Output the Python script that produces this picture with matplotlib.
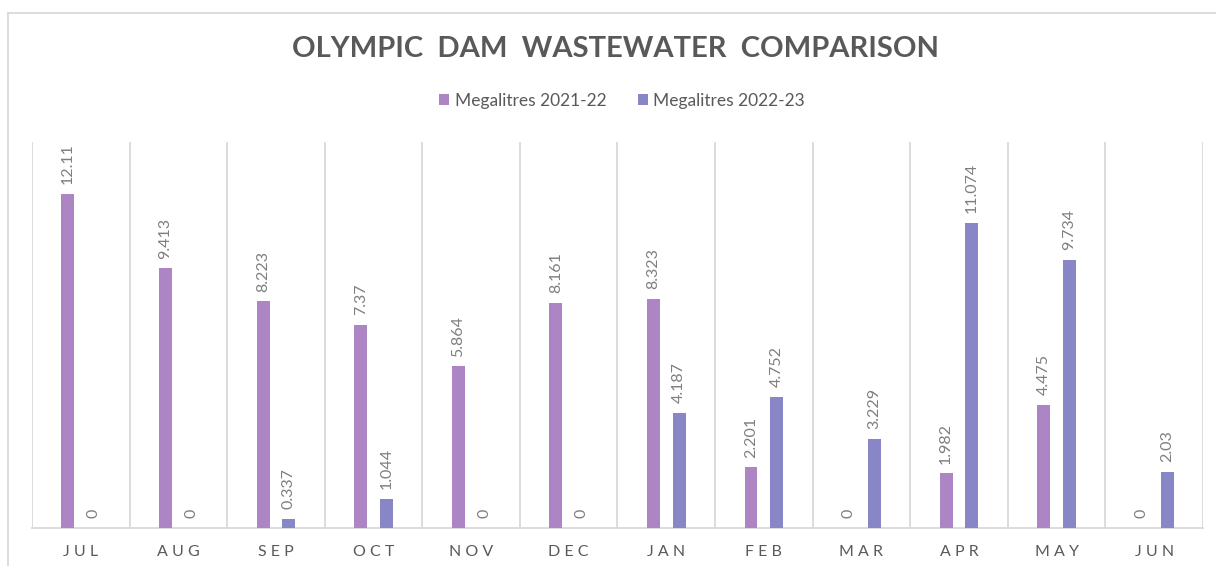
import matplotlib.pyplot as plt
import numpy as np
from matplotlib.lines import Line2D

# Data
months = ['JUL', 'AUG', 'SEP', 'OCT', 'NOV', 'DEC', 'JAN', 'FEB', 'MAR', 'APR', 'MAY', 'JUN']
ml_2021_22 = [12.11, 9.413, 8.223, 7.37, 5.864, 8.161, 8.323, 2.201, 0, 1.982, 4.475, 0]
ml_2022_23 = [0, 0, 0.337, 1.044, 0, 0, 4.187, 4.752, 3.229, 11.074, 9.734, 2.03]
labels_2021_22 = ['12.11', '9.413', '8.223', '7.37', '5.864', '8.161', '8.323', '2.201', '0', '1.982', '4.475', '0']
labels_2022_23 = ['0', '0', '0.337', '1.044', '0', '0', '4.187', '4.752', '3.229', '11.074', '9.734', '2.03']

plt.rcParams['font.family'] = ['Lato', 'DejaVu Sans']

c1 = '#AD84C4'
c2 = '#8886C6'
grid_c = '#D9D9D9'
text_c = '#595959'
label_c = '#7F7F7F'

W, H = 1216, 566
fig = plt.figure(figsize=(W / 100, H / 100), dpi=100)

# Plot area in pixel coordinates
left, right, top, bottom = 32, 1203, 142, 528
ax = fig.add_axes([left / W, (H - bottom) / H, (right - left) / W, (bottom - top) / H])

x = np.arange(len(months))
off = 0.132
w = 0.133
b1 = ax.bar(x - off, ml_2021_22, w, color=c1, label='Megalitres 2021-22', zorder=3)
b2 = ax.bar(x + off, ml_2022_23, w, color=c2, label='Megalitres 2022-23', zorder=3)

ax.bar_label(b1, labels=labels_2021_22, rotation=90, padding=7, color=label_c, fontsize=11.5)
ax.bar_label(b2, labels=labels_2022_23, rotation=90, padding=7, color=label_c, fontsize=11.5)

ax.set_xlim(-0.5, len(months) - 0.5)
ax.set_ylim(0, 14)
ax.set_yticks([])

ax.set_xticks(x)
ax.set_xticklabels([' '.join(m) for m in months], color=text_c, fontsize=11.5)
ax.tick_params(axis='x', length=0, pad=12)
ax.set_xticks(np.arange(-0.5, len(months)), minor=True)
ax.tick_params(axis='x', which='minor', length=0)
ax.grid(True, which='minor', axis='x', color=grid_c, linewidth=1.3, zorder=0)

for s in ['top', 'right', 'left']:
    ax.spines[s].set_visible(False)
ax.spines['bottom'].set_color(grid_c)
ax.spines['bottom'].set_linewidth(1.3)

# Title and legend
fig.text(615 / W, 1 - 49 / H, 'OLYMPIC  DAM  WASTEWATER  COMPARISON',
         ha='center', va='center', fontsize=21, fontweight='bold', color=text_c)
fig.legend(handles=[b1, b2], loc='center', bbox_to_anchor=(622 / W, 1 - 101 / H), ncol=2,
           frameon=False, fontsize=12.5, handlelength=0.6, handleheight=0.6,
           handletextpad=0.3, columnspacing=1.8, labelcolor=text_c)

# Chart border (top and left visible)
fig.add_artist(Line2D([8 / W, 1], [1 - 13 / H, 1 - 13 / H], color=grid_c, linewidth=1.3))
fig.add_artist(Line2D([8 / W, 8 / W], [0, 1 - 13 / H], color=grid_c, linewidth=1.3))

fig.savefig('out.png', dpi=100)
